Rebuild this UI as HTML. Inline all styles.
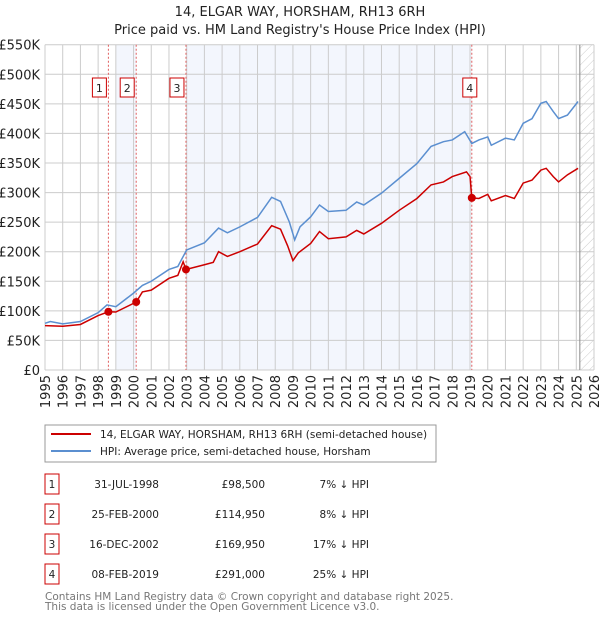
<!DOCTYPE html>
<html><head><meta charset="utf-8"><style>
body{margin:0;background:#fff;font-family:"DejaVu Sans","Liberation Sans",sans-serif;}
svg text{font-family:"DejaVu Sans","Liberation Sans",sans-serif;}
</style></head><body>
<svg id="c" width="600" height="620" xmlns="http://www.w3.org/2000/svg">
<defs><pattern id="hatch" width="6" height="6" patternUnits="userSpaceOnUse" patternTransform="rotate(45)"><line x1="0" y1="0" x2="0" y2="6" stroke="#ccc" stroke-width="1"/></pattern></defs>
<text x="300" y="16" text-anchor="middle" font-size="13" fill="#222">14, ELGAR WAY, HORSHAM, RH13 6RH</text>
<text x="300" y="34" text-anchor="middle" font-size="13" fill="#222">Price paid vs. HM Land Registry's House Price Index (HPI)</text>
<g id="plot"></g>
<g>
<rect x="45" y="425" width="391" height="37" fill="#fff" stroke="#999"/>
<line x1="51" y1="434" x2="91" y2="434" stroke="#cc0000" stroke-width="2"/>
<text x="100" y="438" font-size="10.5" fill="#222">14, ELGAR WAY, HORSHAM, RH13 6RH (semi-detached house)</text>
<line x1="51" y1="451" x2="91" y2="451" stroke="#5b8fd0" stroke-width="2"/>
<text x="100" y="455" font-size="10.5" fill="#222">HPI: Average price, semi-detached house, Horsham</text>
</g>
<g id="table" font-size="10.5" fill="#222"></g>
<text x="45" y="600" font-size="10.5" fill="#777">Contains HM Land Registry data © Crown copyright and database right 2025.</text>
<text x="45" y="610" font-size="10.5" fill="#777">This data is licensed under the Open Government Licence v3.0.</text>
</svg>
<script>
const hpiYears=[1995,1995.3,1996,1997,1998,1998.5,1999,2000,2000.5,2001,2002,2002.5,2003,2004,2004.8,2005.3,2006,2007,2007.8,2008.3,2008.8,2009.1,2009.4,2010,2010.5,2011,2012,2012.6,2013,2014,2015,2016,2016.8,2017.5,2018,2018.7,2019.1,2019.5,2020,2020.2,2021,2021.5,2022,2022.5,2023,2023.3,2023.7,2024,2024.5,2025.1];
const hpiValues=[79,82,78,82,97,110,107,130,143,150,170,175,203,215,240,232,242,258,292,285,250,220,242,259,279,268,270,284,279,299,324,349,378,386,389,403,383,389,394,380,392,389,417,425,451,454,437,425,431,454];
const priceYears=[1995,1996,1997,1998,1998.58,1999,2000.15,2000.5,2001,2002,2002.5,2002.8,2002.96,2004,2004.5,2004.8,2005.3,2006,2007,2007.8,2008.3,2008.7,2009.0,2009.3,2010,2010.5,2011,2012,2012.6,2013,2014,2015,2016,2016.8,2017.5,2018,2018.8,2019.0,2019.1,2019.5,2020,2020.2,2021,2021.5,2022,2022.5,2023,2023.3,2023.7,2024,2024.5,2025.1];
const priceValues=[75,74,77,92,98.5,98,114.95,132,135,155,160,183,169.95,178,182,200,192,200,213,244,238,210,185,198,214,234,222,225,236,230,248,270,290,313,318,327,335,327,291,290,297,286,295,290,316,321,338,341,327,318,330,341];
const saleYears=[1998.58,2000.15,2002.96,2019.1];
const saleValues=[98.5,114.95,169.95,291];
const saleLabels=["1","2","3","4"];
const saleDates=["31-JUL-1998","25-FEB-2000","16-DEC-2002","08-FEB-2019"];
const salePrices=["£98,500","£114,950","£169,950","£291,000"];
const saleDiffs=["7% ↓ HPI","8% ↓ HPI","17% ↓ HPI","25% ↓ HPI"];
const yTicks=[0,50,100,150,200,250,300,350,400,450,500,550];
const xTicks=[1995,1996,1997,1998,1999,2000,2001,2002,2003,2004,2005,2006,2007,2008,2009,2010,2011,2012,2013,2014,2015,2016,2017,2018,2019,2020,2021,2022,2023,2024,2025,2026];
const X0=45,X1=594,Y0=370,Y1=44.7;
const xs=y=>X0+(y-1995)/(2026-1995)*(X1-X0);
const ys=v=>Y0-v/550*(Y0-Y1);
const NS="http://www.w3.org/2000/svg";
const plot=document.getElementById('plot');
function mk(tag,attrs,parent){const e=document.createElementNS(NS,tag);for(const k in attrs)e.setAttribute(k,attrs[k]);(parent||plot).appendChild(e);return e;}
let e;
e=mk('rect',{x:xs(1999),y:Y1,width:xs(saleYears[1])-xs(1999),height:Y0-Y1,fill:'#f3f6fd'});


e=mk('rect',{x:xs(saleYears[2]),y:Y1,width:xs(saleYears[3])-xs(saleYears[2]),height:Y0-Y1,fill:'#f3f6fd'});


e=mk('rect',{x:xs(2025.2),y:Y1,width:xs(2026)-xs(2025.2),height:Y0-Y1,fill:'url(#hatch)'});


yTicks.forEach(t=>{
 e=mk('line',{x1:X0,x2:X1,y1:ys(t),y2:ys(t),stroke:'#ccc','stroke-width':1});
 
 
 e=mk('text',{x:40,y:ys(t)+5,'text-anchor':'end','font-size':13,fill:'#222'});
 e.textContent='£'+(t===0?'0':t+'K');
 
 
});
xTicks.forEach(t=>{
 e=mk('line',{x1:xs(t),x2:xs(t),y1:Y1,y2:Y0,stroke:'#ccc','stroke-width':1});
 
 
 e=mk('text',{x:0,y:0,'text-anchor':'end','font-size':13,fill:'#222',transform:`translate(${xs(t)+5},375) rotate(-90)`});
 e.textContent=t;
 
 
});
e=mk('line',{x1:xs(2025.2),x2:xs(2025.2),y1:Y1,y2:Y0,stroke:'#888','stroke-width':1});


saleYears.forEach((s,i)=>{
 e=mk('line',{x1:xs(s),x2:xs(s),y1:Y1,y2:Y0,stroke:'#e06060','stroke-width':1,'stroke-dasharray':'2,2'});
 
 
 e=mk('rect',{x:xs(s)+(i===3?-9:-16),y:78,width:14,height:19,fill:'#fff',stroke:'#cc0000'});
 
 
 e=mk('text',{x:xs(s)+(i===3?-2:-9),y:92,'text-anchor':'middle','font-size':11,fill:'#222'});
 e.textContent=saleLabels[i];
 
 
});
e=mk('polyline',{points:hpiYears.map((y,i)=>xs(y)+','+ys(hpiValues[i])).join(' '),fill:'none',stroke:'#5b8fd0','stroke-width':1.5});


e=mk('polyline',{points:priceYears.map((y,i)=>xs(y)+','+ys(priceValues[i])).join(' '),fill:'none',stroke:'#cc0000','stroke-width':1.5});


saleYears.forEach((s,i)=>{
 e=mk('circle',{cx:xs(s),cy:ys(saleValues[i]),r:4,fill:'#cc0000'});
 
 
});
const tb=document.getElementById('table');
const rowY=[487,517,547,577];
saleLabels.forEach((l,i)=>{
 e=mk('rect',{x:45,y:rowY[i]-13,width:14,height:20,fill:'#fff',stroke:'#cc0000'},tb);
 
 
 e=mk('text',{x:52,y:rowY[i]+1,'text-anchor':'middle'},tb);e.textContent=l;
 
 
 e=mk('text',{x:159,y:rowY[i]+1,'text-anchor':'end'},tb);e.textContent=saleDates[i];
 
 
 e=mk('text',{x:265,y:rowY[i]+1,'text-anchor':'end'},tb);e.textContent=salePrices[i];
 
 
 e=mk('text',{x:369,y:rowY[i]+1,'text-anchor':'end'},tb);e.textContent=saleDiffs[i];
 
 
});
</script>
</body></html>
